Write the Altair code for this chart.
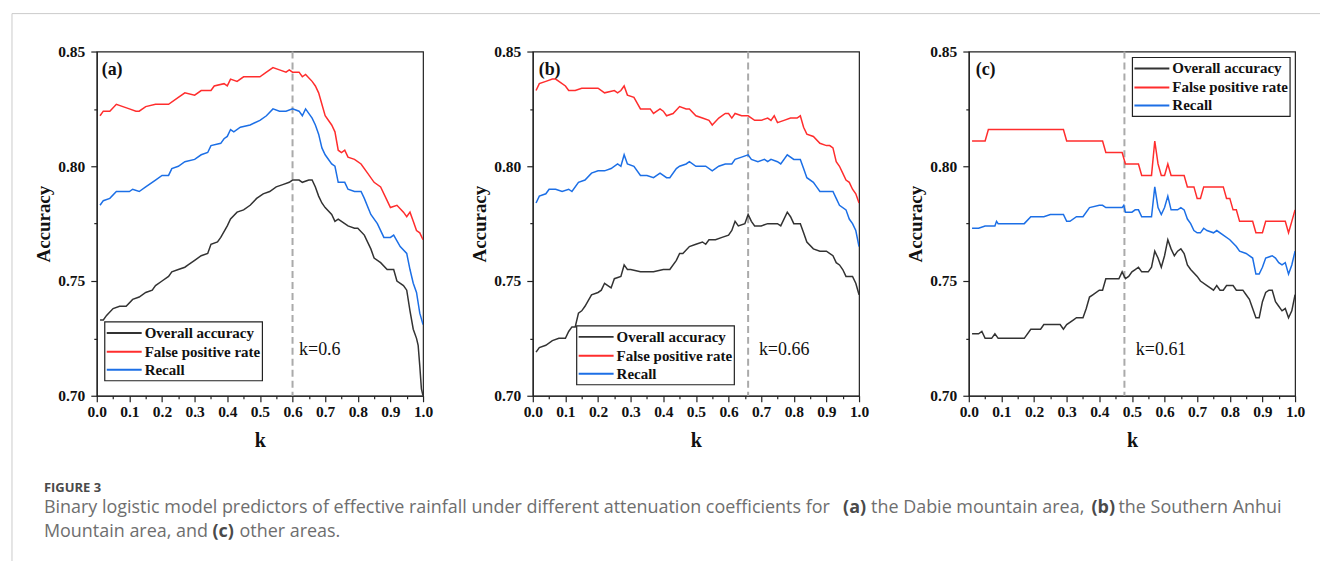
import altair as alt
import pandas as pd

SERIES = ["Overall accuracy", "False positive rate", "Recall"]
COLORS = ["#333333", "#ff2d2d", "#1c6fe6"]
SERIF = "Liberation Serif"
SANS = "Open Sans"

X_TICKS = [0.0, 0.05, 0.1, 0.15, 0.2, 0.25, 0.3, 0.35, 0.4, 0.45, 0.5,
           0.55, 0.6, 0.65, 0.7, 0.75, 0.8, 0.85, 0.9, 0.95, 1.0]
Y_TICKS = [0.70, 0.725, 0.75, 0.775, 0.80, 0.825, 0.85]

# ---------------- panel (a) ----------------
a_oa_k = [0.01,0.02,0.03,0.05,0.07,0.09,0.11,0.13,0.15,0.17,0.18,0.20,0.22,0.23,0.25,0.27,0.28,0.30,0.32,0.34,
          0.35,0.37,0.38,0.40,0.41,0.43,0.45,0.47,0.49,0.51,0.53,0.55,0.57,0.59,0.60,0.62,0.63,0.65,0.66,0.67,
          0.68,0.69,0.70,0.72,0.73,0.74,0.75,0.77,0.79,0.80,0.82,0.84,0.85,0.87,0.89,0.91,0.92,0.94,0.95,0.96,
          0.97,0.98,0.985,0.99,0.995,1.00]
a_oa_v = [0.733,0.733,0.735,0.738,0.739,0.739,0.742,0.743,0.745,0.746,0.748,0.750,0.752,0.754,0.755,0.756,0.757,0.759,0.761,0.762,
          0.766,0.767,0.769,0.774,0.777,0.780,0.781,0.783,0.786,0.788,0.789,0.791,0.792,0.793,0.794,0.794,0.793,0.794,0.794,0.791,
          0.787,0.784,0.782,0.779,0.776,0.777,0.776,0.774,0.773,0.773,0.770,0.764,0.760,0.758,0.755,0.755,0.750,0.748,0.746,0.737,
          0.729,0.725,0.722,0.713,0.703,0.700]
a_fp_k = [0.01,0.02,0.04,0.06,0.08,0.10,0.12,0.13,0.15,0.18,0.22,0.25,0.27,0.30,0.32,0.35,0.36,0.39,0.40,0.41,
          0.43,0.45,0.50,0.52,0.54,0.56,0.58,0.59,0.60,0.62,0.63,0.64,0.66,0.67,0.68,0.69,0.70,0.72,0.73,0.74,
          0.75,0.76,0.77,0.79,0.81,0.83,0.85,0.87,0.89,0.90,0.92,0.94,0.95,0.96,0.97,0.98,0.99,1.00]
a_fp_v = [0.822,0.824,0.824,0.827,0.826,0.825,0.824,0.824,0.826,0.827,0.827,0.830,0.832,0.831,0.833,0.833,0.835,0.836,0.835,0.838,
          0.837,0.839,0.839,0.841,0.843,0.842,0.841,0.842,0.841,0.841,0.839,0.840,0.837,0.835,0.832,0.827,0.822,0.818,0.815,0.807,
          0.806,0.807,0.804,0.803,0.801,0.797,0.793,0.791,0.785,0.782,0.783,0.780,0.778,0.780,0.776,0.772,0.771,0.768]
a_re_k = [0.01,0.02,0.04,0.06,0.08,0.10,0.11,0.13,0.15,0.18,0.20,0.22,0.23,0.25,0.27,0.30,0.32,0.34,0.35,0.38,
          0.39,0.40,0.41,0.42,0.44,0.47,0.50,0.52,0.54,0.56,0.58,0.60,0.62,0.63,0.64,0.66,0.67,0.68,0.69,0.70,
          0.72,0.73,0.74,0.75,0.76,0.77,0.79,0.81,0.82,0.84,0.86,0.88,0.90,0.91,0.93,0.95,0.96,0.97,0.98,0.99,1.00]
a_re_v = [0.783,0.785,0.786,0.789,0.789,0.789,0.790,0.789,0.791,0.794,0.796,0.796,0.799,0.800,0.802,0.803,0.805,0.806,0.809,0.810,
          0.812,0.813,0.816,0.815,0.817,0.818,0.820,0.822,0.825,0.824,0.824,0.825,0.824,0.822,0.825,0.821,0.818,0.814,0.808,0.805,
          0.801,0.800,0.793,0.793,0.793,0.790,0.789,0.789,0.786,0.779,0.775,0.769,0.769,0.770,0.765,0.762,0.755,0.749,0.745,0.736,0.731]

# ---------------- panel (b) ----------------
b_oa_k = [0.01,0.02,0.04,0.06,0.08,0.10,0.11,0.12,0.13,0.14,0.15,0.16,0.18,0.20,0.21,0.22,0.23,0.24,0.25,0.27,
          0.28,0.29,0.30,0.33,0.37,0.40,0.42,0.44,0.45,0.46,0.48,0.50,0.52,0.53,0.54,0.56,0.58,0.60,0.61,0.62,
          0.63,0.65,0.66,0.67,0.68,0.70,0.72,0.75,0.76,0.78,0.79,0.80,0.82,0.83,0.84,0.86,0.88,0.90,0.92,0.93,
          0.94,0.95,0.96,0.97,0.98,0.99,1.00]
b_oa_v = [0.719,0.721,0.722,0.724,0.725,0.725,0.728,0.730,0.730,0.736,0.737,0.739,0.744,0.745,0.746,0.749,0.748,0.747,0.751,0.752,
          0.757,0.755,0.755,0.754,0.754,0.755,0.755,0.759,0.762,0.762,0.765,0.766,0.767,0.766,0.768,0.768,0.769,0.770,0.772,0.776,
          0.774,0.775,0.779,0.776,0.774,0.774,0.775,0.775,0.774,0.780,0.778,0.775,0.775,0.771,0.767,0.764,0.763,0.763,0.761,0.758,
          0.757,0.755,0.752,0.752,0.752,0.749,0.744]
b_fp_k = [0.01,0.02,0.04,0.06,0.07,0.08,0.10,0.11,0.13,0.15,0.20,0.22,0.25,0.26,0.27,0.28,0.29,0.31,0.33,0.36,
          0.37,0.39,0.40,0.41,0.43,0.45,0.47,0.48,0.50,0.52,0.54,0.55,0.57,0.59,0.60,0.61,0.62,0.64,0.66,0.68,
          0.70,0.72,0.73,0.74,0.75,0.77,0.79,0.81,0.82,0.83,0.84,0.86,0.88,0.90,0.91,0.92,0.93,0.94,0.95,0.96,
          0.97,0.98,0.99,1.00]
b_fp_v = [0.833,0.836,0.837,0.838,0.838,0.837,0.835,0.833,0.833,0.834,0.834,0.832,0.833,0.832,0.833,0.835,0.831,0.830,0.825,0.825,
          0.823,0.825,0.824,0.822,0.823,0.826,0.825,0.825,0.822,0.821,0.820,0.818,0.821,0.823,0.823,0.821,0.823,0.822,0.822,0.820,
          0.820,0.821,0.820,0.822,0.819,0.820,0.821,0.821,0.822,0.817,0.814,0.813,0.810,0.809,0.809,0.808,0.802,0.800,0.797,0.794,
          0.793,0.790,0.788,0.784]
b_re_k = [0.01,0.02,0.04,0.05,0.07,0.09,0.11,0.12,0.14,0.16,0.18,0.20,0.22,0.24,0.26,0.27,0.28,0.29,0.31,0.33,
          0.35,0.37,0.39,0.41,0.42,0.44,0.45,0.47,0.48,0.50,0.53,0.55,0.57,0.59,0.61,0.62,0.64,0.66,0.67,0.69,
          0.71,0.72,0.73,0.75,0.76,0.78,0.80,0.82,0.83,0.84,0.86,0.87,0.88,0.92,0.93,0.94,0.96,0.97,0.98,0.99,1.00]
b_re_v = [0.784,0.787,0.788,0.790,0.790,0.789,0.790,0.789,0.793,0.794,0.797,0.798,0.798,0.799,0.801,0.800,0.805,0.801,0.800,0.796,
          0.796,0.795,0.797,0.795,0.795,0.799,0.800,0.801,0.802,0.800,0.800,0.798,0.800,0.801,0.801,0.803,0.804,0.805,0.803,0.802,
          0.803,0.802,0.803,0.802,0.801,0.805,0.803,0.803,0.799,0.795,0.793,0.791,0.789,0.789,0.786,0.783,0.781,0.777,0.775,0.772,0.765]

# ---------------- panel (c) ----------------
c_oa_k = [0.01,0.03,0.04,0.05,0.07,0.08,0.09,0.17,0.19,0.22,0.23,0.28,0.29,0.30,0.32,0.33,0.35,0.36,0.37,0.38,
          0.40,0.41,0.42,0.46,0.47,0.48,0.49,0.50,0.51,0.52,0.53,0.55,0.56,0.57,0.58,0.59,0.60,0.61,0.62,0.63,
          0.64,0.65,0.66,0.67,0.68,0.70,0.71,0.73,0.74,0.75,0.76,0.77,0.78,0.79,0.81,0.82,0.84,0.85,0.86,0.87,
          0.88,0.89,0.90,0.91,0.92,0.93,0.94,0.95,0.96,0.97,0.98,0.99,1.00]
c_oa_v = [0.727,0.727,0.728,0.725,0.725,0.727,0.725,0.725,0.729,0.729,0.731,0.731,0.729,0.731,0.733,0.734,0.734,0.738,0.743,0.744,
          0.746,0.746,0.751,0.751,0.754,0.751,0.752,0.754,0.755,0.756,0.754,0.754,0.756,0.763,0.760,0.756,0.761,0.768,0.764,0.761,
          0.763,0.764,0.762,0.757,0.755,0.752,0.750,0.748,0.747,0.746,0.748,0.746,0.746,0.748,0.748,0.746,0.746,0.744,0.742,0.738,
          0.734,0.734,0.741,0.745,0.746,0.746,0.741,0.739,0.737,0.738,0.734,0.737,0.744]
c_fp_k = [0.01,0.05,0.06,0.29,0.30,0.41,0.42,0.47,0.48,0.52,0.53,0.56,0.57,0.58,0.59,0.60,0.61,0.62,0.66,0.67,
          0.69,0.70,0.71,0.72,0.78,0.79,0.80,0.81,0.82,0.83,0.87,0.88,0.90,0.91,0.97,0.98,0.99,1.00]
c_fp_v = [0.811,0.811,0.816,0.816,0.811,0.811,0.806,0.806,0.801,0.801,0.796,0.796,0.811,0.801,0.796,0.796,0.801,0.796,0.796,0.791,
          0.791,0.786,0.786,0.791,0.791,0.786,0.786,0.781,0.781,0.776,0.776,0.771,0.771,0.776,0.776,0.771,0.776,0.781]
c_re_k = [0.01,0.03,0.05,0.08,0.085,0.09,0.17,0.19,0.23,0.25,0.29,0.30,0.31,0.33,0.35,0.37,0.40,0.41,0.42,0.47,
          0.475,0.48,0.50,0.51,0.52,0.53,0.56,0.57,0.58,0.59,0.60,0.61,0.62,0.64,0.65,0.66,0.67,0.68,0.69,0.70,
          0.71,0.72,0.73,0.75,0.76,0.78,0.80,0.82,0.83,0.85,0.87,0.88,0.89,0.90,0.91,0.93,0.94,0.95,0.96,0.97,
          0.98,0.99,1.00]
c_re_v = [0.773,0.773,0.774,0.774,0.776,0.775,0.775,0.778,0.778,0.779,0.779,0.776,0.776,0.778,0.778,0.782,0.783,0.783,0.782,0.782,
          0.783,0.780,0.780,0.781,0.781,0.778,0.778,0.791,0.782,0.779,0.782,0.787,0.781,0.781,0.782,0.781,0.777,0.775,0.772,0.771,
          0.771,0.773,0.772,0.771,0.772,0.770,0.768,0.765,0.763,0.762,0.760,0.753,0.753,0.756,0.760,0.761,0.760,0.758,0.757,0.758,
          0.753,0.757,0.763]

# ---------------- annotations ----------------
panel_tags = ["(a)", "(b)", "(c)"]
tag_k = [0.015, 0.018, 0.021]
tag_acc = [0.842, 0.842, 0.842]
cut_k = [0.60, 0.66, 0.477]
cut_text = ["k=0.6", "k=0.66", "k=0.61"]
cut_text_k = [0.62, 0.693, 0.512]
cut_text_acc = [0.720, 0.720, 0.720]
legend_box = [(8, 271), (44, 275), (164, 6)]   # top-left of legend frame inside plot (px)
LEG_W, LEG_H = 158, 59
LEG_ROWS = [11, 30, 48]
panel_widths = [327, 327, 327]
PANEL_H = 345

panel_data = [
    [(a_oa_k, a_oa_v), (a_fp_k, a_fp_v), (a_re_k, a_re_v)],
    [(b_oa_k, b_oa_v), (b_fp_k, b_fp_v), (b_re_k, b_re_v)],
    [(c_oa_k, c_oa_v), (c_fp_k, c_fp_v), (c_re_k, c_re_v)],
]

cap_text = ["FIGURE 3",
            "Binary logistic model predictors of effective rainfall under different attenuation coefficients for",
            "(a)", "the Dabie mountain area,", "(b)", "the Southern Anhui",
            "Mountain area, and", "(c)", "other areas."]
cap_x = [42, 42, 843, 871, 1092, 1119, 42, 211, 238]
cap_y = [486, 507, 507, 507, 507, 507, 531, 531, 531]
cap_bold = [True, False, True, False, True, False, False, True, False]
cap_size = [13, 18, 18, 18, 18, 18, 18, 18, 18]

AX_LABEL = 15.5
x_axis = alt.Axis(
    values=X_TICKS,
    labelExpr="round(datum.value*100) % 10 == 0 ? format(datum.value, '.1f') : ''",
    tickSize={"condition": {"test": "round(datum.value*100) % 10 == 0", "value": 6}, "value": 3},
    labelFont=SERIF, labelFontWeight="bold", labelFontSize=AX_LABEL, labelColor="#111",
    labelPadding=3, labelFlush=False, labelOverlap=False,
    titleFont=SERIF, titleFontWeight="bold", titleFontSize=20, titleColor="#111", titlePadding=10,
    domainColor="#222", domainWidth=1.2, tickColor="#222", tickWidth=1.2, grid=False,
)
y_axis = alt.Axis(
    values=Y_TICKS,
    labelExpr="round(datum.value*1000) % 50 == 0 ? format(datum.value, '.2f') : ''",
    tickSize={"condition": {"test": "round(datum.value*1000) % 50 == 0", "value": 6}, "value": 3},
    labelFont=SERIF, labelFontWeight="bold", labelFontSize=AX_LABEL, labelColor="#111",
    labelPadding=6, labelFlush=False, labelOverlap=False,
    titleFont=SERIF, titleFontWeight="bold", titleFontSize=19, titleColor="#111", titlePadding=4,
    domainColor="#222", domainWidth=1.2, tickColor="#222", tickWidth=1.2, grid=False,
)
x_scale = alt.Scale(domain=[0, 1], nice=False)
y_scale = alt.Scale(domain=[0.70, 0.85], nice=False, zero=False)


def xenc():
    return alt.X("k:Q", scale=x_scale, axis=x_axis, title="k")


def yenc():
    return alt.Y("acc:Q", scale=y_scale, axis=y_axis, title="Accuracy")


one = pd.DataFrame({"a": [0]})

# page decorations (caption + border lines), positioned relative to panel (a)'s plot origin
OX, OY = 95, 49
deco_layers = []
deco_layers.append(alt.Chart(one).mark_rule(color="#cccccc", strokeWidth=1).encode(
    x=alt.value(10 - OX), x2=alt.value(1321 - OX), y=alt.value(11 - OY)))
deco_layers.append(alt.Chart(one).mark_rule(color="#cccccc", strokeWidth=1).encode(
    x=alt.value(10 - OX), y=alt.value(11 - OY), y2=alt.value(560 - OY)))
for t, x, y, b, s in zip(cap_text, cap_x, cap_y, cap_bold, cap_size):
    deco_layers.append(alt.Chart(one).mark_text(
        align="left", baseline="middle", font=SANS, fontSize=s,
        fontWeight="bold" if b else "normal",
        color="#4a4a4a" if b else "#6e6e6e").encode(
        x=alt.value(x - OX), y=alt.value(y - OY), text=alt.value(t)))


def legend_layers(i):
    x0, y0 = legend_box[i]
    out = [alt.Chart(one).mark_rect(fill="white", stroke="#222", strokeWidth=1.2).encode(
        x=alt.value(x0), x2=alt.value(x0 + LEG_W), y=alt.value(y0), y2=alt.value(y0 + LEG_H))]
    for name, col, dy in zip(SERIES, COLORS, LEG_ROWS):
        out.append(alt.Chart(one).mark_rule(color=col, strokeWidth=2).encode(
            x=alt.value(x0 + 2), x2=alt.value(x0 + 37), y=alt.value(y0 + dy)))
        out.append(alt.Chart(one).mark_text(
            align="left", baseline="middle", font=SERIF, fontSize=15, fontWeight="bold", color="#111").encode(
            x=alt.value(x0 + 40), y=alt.value(y0 + dy), text=alt.value(name)))
    return out


def make_panel(i, extra):
    rows = []
    for name, (ks, vs) in zip(SERIES, panel_data[i]):
        for order, (k, v) in enumerate(zip(ks, vs)):
            rows.append({"series": name, "k": k, "acc": v, "o": order})
    df = pd.DataFrame(rows)
    lines = alt.Chart(df).mark_line(strokeWidth=1.5, clip=True).encode(
        x=xenc(), y=yenc(),
        color=alt.Color("series:N", scale=alt.Scale(domain=SERIES, range=COLORS), legend=None),
        order="o:Q",
    )
    rule = alt.Chart(pd.DataFrame({"k": [cut_k[i]]})).mark_rule(
        color="#aaaaaa", strokeDash=[7, 4], strokeWidth=2).encode(x=xenc())
    txt = alt.Chart(pd.DataFrame({"k": [cut_text_k[i]], "acc": [cut_text_acc[i]], "t": [cut_text[i]]})).mark_text(
        align="left", baseline="middle", font=SERIF, fontSize=18, color="#111").encode(
        x=xenc(), y=yenc(), text="t:N")
    tag = alt.Chart(pd.DataFrame({"k": [tag_k[i]], "acc": [tag_acc[i]], "t": [panel_tags[i]]})).mark_text(
        align="left", baseline="middle", font=SERIF, fontSize=18, fontWeight="bold", color="#111").encode(
        x=xenc(), y=yenc(), text="t:N")
    return alt.layer(rule, lines, txt, tag, *legend_layers(i), *extra).properties(
        width=panel_widths[i], height=PANEL_H,
        view=alt.ViewBackground(stroke="#222", strokeWidth=1.2),
    )


chart = alt.hconcat(make_panel(0, deco_layers), make_panel(1, []), make_panel(2, []),
                    spacing=110, bounds="flush").resolve_scale(
    color="independent").properties(
    padding={"left": 10, "top": 11, "right": 0, "bottom": 0},
    background="white",
)

chart.save("out.html", embed_options={"renderer": "svg", "actions": False})
